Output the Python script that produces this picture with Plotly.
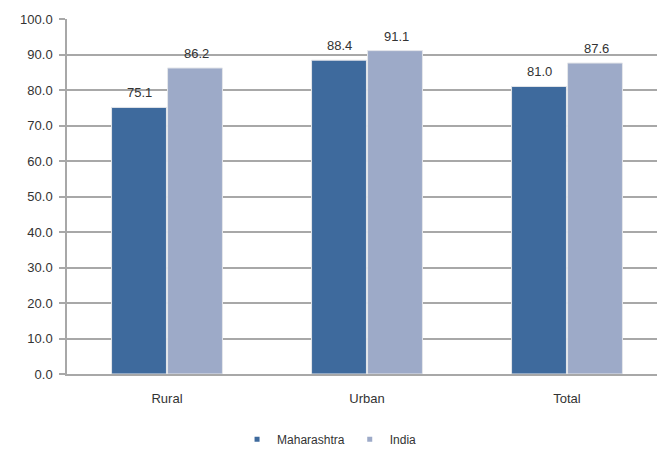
import plotly.graph_objects as go

categories = ["Rural", "Urban", "Total"]
maharashtra = [75.1, 88.4, 81.0]
india = [86.2, 91.1, 87.6]
tick_vals = [0, 10, 20, 30, 40, 50, 60, 70, 80, 90, 100]
tick_text = [f"{v:.1f}" for v in tick_vals]

font_family = "Liberation Sans, Arial, sans-serif"
colors = {"Maharashtra": "#3e6a9d", "India": "#9daac8"}
series = {"Maharashtra": maharashtra, "India": india}
offsets = {"Maharashtra": -0.14, "India": 0.145}

fig = go.Figure()
for name, values in series.items():
    fig.add_trace(go.Bar(
        name=name, x=list(range(len(categories))), y=values,
        marker=dict(color=colors[name], line=dict(color="#e4e6ea", width=1)),
        showlegend=False,
    ))
    # value labels above each bar
    for i, v in enumerate(values):
        fig.add_annotation(
            x=i + offsets[name], y=v, text=f"{v:.1f}", showarrow=False,
            yanchor="bottom", yshift=5,
            font=dict(color="#333333", size=13, family=font_family),
        )

# legend entries with small square keys
for name in series:
    fig.add_trace(go.Scatter(
        name=name, x=[None], y=[None], mode="markers",
        marker=dict(symbol="square", size=5, color=colors[name]),
    ))

fig.update_layout(
    width=657, height=452,
    margin=dict(l=67, r=0, t=19, b=78),
    paper_bgcolor="white", plot_bgcolor="white",
    barmode="group", bargap=0.44, bargroupgap=0.02,
    font=dict(family=font_family, size=13, color="#333333"),
    showlegend=True,
    legend=dict(
        orientation="h", x=0.445, xanchor="center",
        yref="container", y=0.028, yanchor="middle",
        font=dict(size=12, color="#333333"),
        itemwidth=30, traceorder="normal",
    ),
    xaxis=dict(
        range=[-0.5, 2.45], showgrid=False,
        tickvals=list(range(len(categories))), ticktext=categories,
        showline=True, linecolor="#a8a8a8", linewidth=1.5,
        ticks="", ticklabelstandoff=12,
        tickfont=dict(size=13, color="#333333"),
    ),
    yaxis=dict(
        range=[0, 100], tickvals=tick_vals, ticktext=tick_text,
        showgrid=True, gridcolor="#a8a8a8", gridwidth=1.5,
        showline=True, linecolor="#a8a8a8", linewidth=1.5,
        ticks="outside", ticklen=6, tickcolor="#a8a8a8", tickwidth=1.5,
        ticklabelstandoff=4,
        tickfont=dict(size=13, color="#333333"),
        zeroline=False,
    ),
)

fig.write_html("out.html")
